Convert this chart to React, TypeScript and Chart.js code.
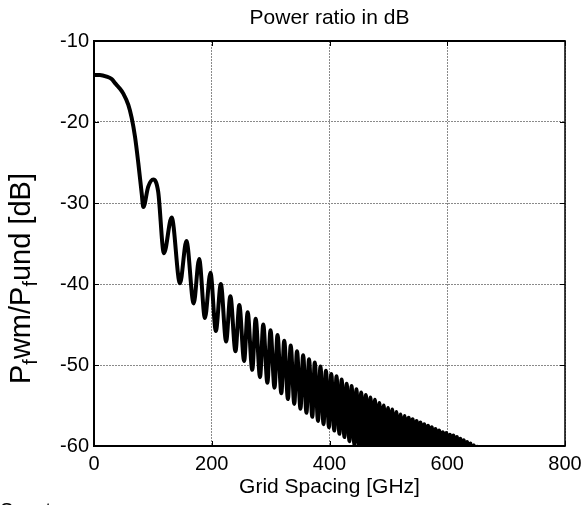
import React, { useEffect, useRef } from 'react';
import { Chart, registerables } from 'chart.js';

Chart.register(...registerables);

const TITLE = 'Power ratio in dB';
const X_LABEL = 'Grid Spacing [GHz]';
const FOOT_TEXT = 'Spectrum';
const X_TICKS = [0, 200, 400, 600, 800];
const Y_TICKS = [-60, -50, -40, -30, -20, -10];

const freqGHz = [
  0, 10, 21.5, 30, 35.7, 43, 49.8, 58.3, 64, 69.6, 75.3, 81, 83.8, 92, 100.7, 109,
  118.8, 131.9, 146.0, 157.0, 169.3, 178.6, 188.4, 197.8, 207.0, 215.4,
  224.4, 231.6, 240.3, 246.8, 255.0, 261.0, 268.8, 274.6, 282.0, 287.5,
  294.5, 299.8, 306.6, 311.7, 318.2, 323.1, 329.4, 334.1, 340.2, 344.8,
  350.7, 355.2, 360.9, 365.2, 370.8, 375.0, 380.5, 384.6, 389.9, 393.9,
  399.1, 403.0, 408.1, 411.9, 416.9, 420.6, 425.4, 429.1, 433.9, 437.5,
  442.2, 445.7, 450.3, 453.8, 458.3, 461.7, 466.1, 469.5, 473.8, 477.1,
  481.4, 484.7, 488.9, 492.1, 496.3, 499.4, 503.5, 506.6, 510.6, 513.7,
  517.7, 520.7, 524.6, 527.6, 531.5, 534.5, 538.3, 541.2, 545.0, 547.9,
  551.6, 554.4, 558.1, 560.9, 564.6, 567.4, 571.0, 573.7, 577.3, 580.0,
  583.5, 586.2, 589.7, 592.4, 595.8, 598.4, 601.9, 604.5, 607.9, 610.4,
  613.8, 616.4, 619.7, 622.2, 625.5, 628.0, 631.3, 633.7, 637.0, 639.4,
  642.7, 645.1, 648.3, 650.7, 656.0,
];

const ratioDb = [
  -14.2, -14.2, -14.4, -14.7, -15.2, -15.8, -16.5, -17.9, -19.5, -21.8, -25.1, -28.8, -30.5, -28.0, -27.1, -28.6,
  -36.2, -31.8, -39.9, -34.7, -42.4, -36.9, -44.2, -38.6, -45.8, -40.0,
  -47.1, -41.5, -48.3, -42.6, -49.5, -43.5, -50.6, -44.3, -51.5, -45.0,
  -52.2, -45.7, -52.8, -46.3, -53.5, -47.0, -54.2, -47.6, -54.8, -48.3,
  -55.4, -48.8, -55.9, -49.3, -56.4, -49.7, -56.9, -50.2, -57.3, -50.7,
  -57.7, -51.1, -58.1, -51.4, -58.5, -51.8, -58.9, -52.3, -59.4, -52.6,
  -59.8, -53.0, -60.4, -53.4, -61.0, -53.7, -61.6, -54.0, -62.3, -54.3,
  -63.0, -54.7, -63.6, -55.0, -64.3, -55.3, -65.0, -55.5, -65.6, -55.8,
  -66.2, -56.1, -66.8, -56.3, -67.4, -56.5, -68.0, -56.7, -68.5, -56.9,
  -69.0, -57.1, -69.5, -57.3, -70.0, -57.5, -70.5, -57.7, -71.0, -57.9,
  -71.4, -58.1, -71.8, -58.3, -72.2, -58.4, -72.6, -58.6, -73.0, -58.7,
  -73.4, -58.9, -73.8, -59.1, -74.2, -59.3, -74.6, -59.5, -75.0, -59.7,
  -75.4, -59.9, -75.8, -60.1, -76.0,
];

const FONT = "'Liberation Sans', Arial, Helvetica, sans-serif";

const framePlugin = {
  id: 'matlabFrame',
  afterDraw(chart: any) {
    const { ctx, chartArea: a, scales } = chart;
    ctx.save();
    ctx.strokeStyle = '#000';
    ctx.lineWidth = 1;
    const line = (x1: number, y1: number, x2: number, y2: number) => {
      ctx.beginPath();
      ctx.moveTo(x1, y1);
      ctx.lineTo(x2, y2);
      ctx.stroke();
    };
    for (const v of X_TICKS) {
      const px = Math.round(scales.x.getPixelForValue(v)) + 0.5;
      line(px, a.bottom, px, a.bottom - 5);
      line(px, a.top, px, a.top + 5);
    }
    for (const v of Y_TICKS) {
      const py = Math.round(scales.y.getPixelForValue(v)) + 0.5;
      line(a.left, py, a.left + 5, py);
      line(a.right, py, a.right - 5, py);
    }
    ctx.lineWidth = 2;
    line(a.left, a.top, a.left, a.bottom);
    line(a.left - 1, a.bottom, a.right, a.bottom);
    line(a.left - 1, a.top, a.right, a.top);
    ctx.lineWidth = 1.5;
    line(a.right, a.top - 1, a.right, a.bottom + 1);

    // title
    ctx.fillStyle = '#000';
    ctx.font = `21px ${FONT}`;
    ctx.textAlign = 'center';
    ctx.textBaseline = 'alphabetic';
    ctx.fillText(TITLE, (a.left + a.right) / 2, 24);

    // y label with subscripts
    const main = `29px ${FONT}`;
    const sub = `20px ${FONT}`;
    const parts: [string, boolean][] = [
      ['P', false], ['f', true], ['wm/P', false], ['f', true], ['und [dB]', false],
    ];
    ctx.save();
    ctx.translate(30, 384);
    ctx.rotate(-Math.PI / 2);
    ctx.textAlign = 'left';
    let cx = 0;
    for (const [t, s] of parts) {
      ctx.font = s ? sub : main;
      ctx.fillText(t, cx, s ? 7 : 0);
      cx += ctx.measureText(t).width;
    }
    ctx.restore();

    // clipped footer text
    ctx.font = `20px ${FONT}`;
    ctx.textAlign = 'left';
    ctx.fillText(FOOT_TEXT, 0, 517);
    ctx.restore();
  },
};

export default function App() {
  const ref = useRef<HTMLCanvasElement | null>(null);
  useEffect(() => {
    if (!ref.current) return;
    const points = freqGHz.map((x, i) => ({ x, y: ratioDb[i] }));
    const chart = new Chart(ref.current, {
      type: 'line',
      data: {
        datasets: [
          {
            data: points,
            borderColor: '#000',
            borderWidth: 4,
            pointRadius: 0,
            fill: false,
            cubicInterpolationMode: 'monotone',
          },
        ],
      },
      options: {
        animation: false,
        responsive: false,
        devicePixelRatio: 1,
        parsing: false,
        layout: { padding: { top: 41, right: 17, left: 0, bottom: 0 } },
        plugins: { legend: { display: false }, tooltip: { enabled: false }, title: { display: false } },
        scales: {
          x: {
            type: 'linear',
            min: 0,
            max: 800,
            afterBuildTicks: (s: any) => { s.ticks = X_TICKS.map((v) => ({ value: v })); },
            afterFit: (s: any) => { s.height = 59; s.paddingLeft = 0; s.paddingRight = 0; },
            ticks: { color: '#000', font: { family: FONT, size: 20 }, padding: 6, maxRotation: 0, autoSkip: false },
            grid: { color: '#8a8a8a', lineWidth: 1, drawTicks: false },
            border: { display: false, dash: [2, 1] },
            title: { display: true, text: X_LABEL, color: '#000', font: { family: FONT, size: 21 }, padding: { top: 0, bottom: 5 } },
          },
          y: {
            type: 'linear',
            min: -60,
            max: -10,
            afterBuildTicks: (s: any) => { s.ticks = Y_TICKS.map((v) => ({ value: v })); },
            afterFit: (s: any) => { s.width = 94; s.paddingTop = 0; s.paddingBottom = 0; },
            ticks: { color: '#000', font: { family: FONT, size: 20 }, padding: 5, autoSkip: false },
            grid: { color: '#8a8a8a', lineWidth: 1, drawTicks: false },
            border: { display: false, dash: [2, 1] },
          },
        },
      },
      plugins: [framePlugin],
    } as any);
    return () => chart.destroy();
  }, []);
  return (
    <div style={{ position: 'absolute', left: 0, top: 0, width: 582, height: 505 }}>
      <canvas ref={ref} width={582} height={505} />
    </div>
  );
}
